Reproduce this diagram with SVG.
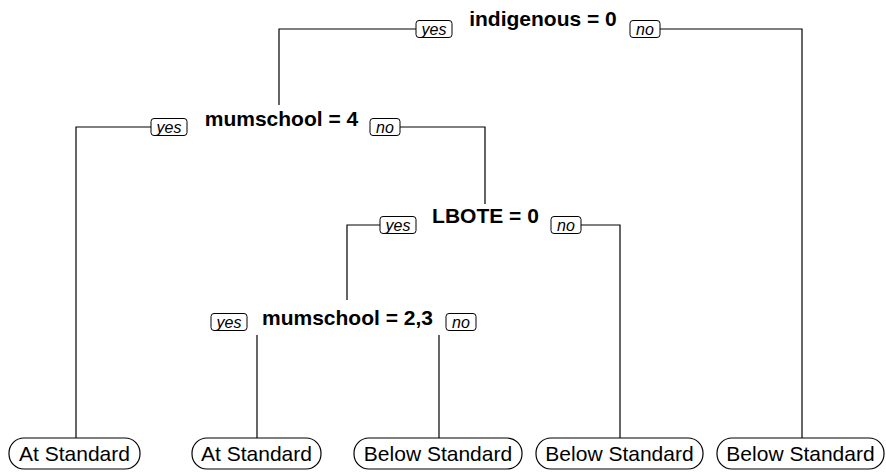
<svg xmlns="http://www.w3.org/2000/svg" width="886" height="472" viewBox="0 0 886 472">
  <style>
    .split { font-family: "Liberation Sans", Arial, sans-serif; font-size: 21px; font-weight: bold; fill: #000; text-anchor: middle; }
    .leaf rect { fill: #fff; stroke: #000; stroke-width: 1.2; }
    .leaf text { font-family: "Liberation Sans", Arial, sans-serif; font-size: 21px; fill: #000; text-anchor: middle; }
    .tag rect { fill: #fff; stroke: #000; stroke-width: 1; }
    .tag text { font-family: "Liberation Sans", Arial, sans-serif; font-size: 16px; font-style: italic; fill: #000; text-anchor: middle; }
    .edges path { fill: none; stroke: #000; stroke-width: 1.2; }
  </style>

  <!-- branch lines -->
  <g id="connectors" class="edges">
    <path d="M279,105 V29 H416"/>
    <path d="M660,29 H802 V438"/>
    <path d="M76,438 V127 H151"/>
    <path d="M400,127 H485 V204"/>
    <path d="M347,300 V225 H380"/>
    <path d="M581,225 H620 V438"/>
    <path d="M257,335 V438"/>
    <path d="M439,335 V438"/>
  </g>

  <!-- split nodes -->
  <g id="node-indigenous">
    <text class="split" x="543" y="26">indigenous = 0</text>
    <g class="tag"><rect x="416" y="20.5" width="36" height="17" rx="3"/><text x="434" y="34.5">yes</text></g>
    <g class="tag"><rect x="630" y="20.5" width="30" height="17" rx="3"/><text x="645" y="34.5">no</text></g>
  </g>

  <g id="node-mumschool4">
    <text class="split" x="281.5" y="126">mumschool = 4</text>
    <g class="tag"><rect x="151" y="118.5" width="36" height="17" rx="3"/><text x="169" y="132.5">yes</text></g>
    <g class="tag"><rect x="370" y="118.5" width="30" height="17" rx="3"/><text x="385" y="132.5">no</text></g>
  </g>

  <g id="node-lbote">
    <text class="split" x="485.5" y="223">LBOTE = 0</text>
    <g class="tag"><rect x="380" y="216.5" width="36" height="17" rx="3"/><text x="398" y="230.5">yes</text></g>
    <g class="tag"><rect x="551" y="216.5" width="30" height="17" rx="3"/><text x="566" y="230.5">no</text></g>
  </g>

  <g id="node-mumschool23">
    <text class="split" x="347.5" y="325">mumschool = 2,3</text>
    <g class="tag"><rect x="211" y="313.5" width="36" height="17" rx="3"/><text x="229" y="327.5">yes</text></g>
    <g class="tag"><rect x="446" y="313.5" width="30" height="17" rx="3"/><text x="461" y="327.5">no</text></g>
  </g>

  <!-- leaves -->
  <g id="leaf-1" class="leaf"><rect x="9" y="438" width="131" height="31" rx="15"/><text x="74.5" y="461">At Standard</text></g>
  <g id="leaf-2" class="leaf"><rect x="192" y="438" width="129" height="31" rx="15"/><text x="256.5" y="461">At Standard</text></g>
  <g id="leaf-3" class="leaf"><rect x="354" y="438" width="168" height="31" rx="15"/><text x="438" y="461">Below Standard</text></g>
  <g id="leaf-4" class="leaf"><rect x="536" y="438" width="167" height="31" rx="15"/><text x="619.5" y="461">Below Standard</text></g>
  <g id="leaf-5" class="leaf"><rect x="717" y="438" width="167" height="31" rx="15"/><text x="800.5" y="461">Below Standard</text></g>
</svg>
